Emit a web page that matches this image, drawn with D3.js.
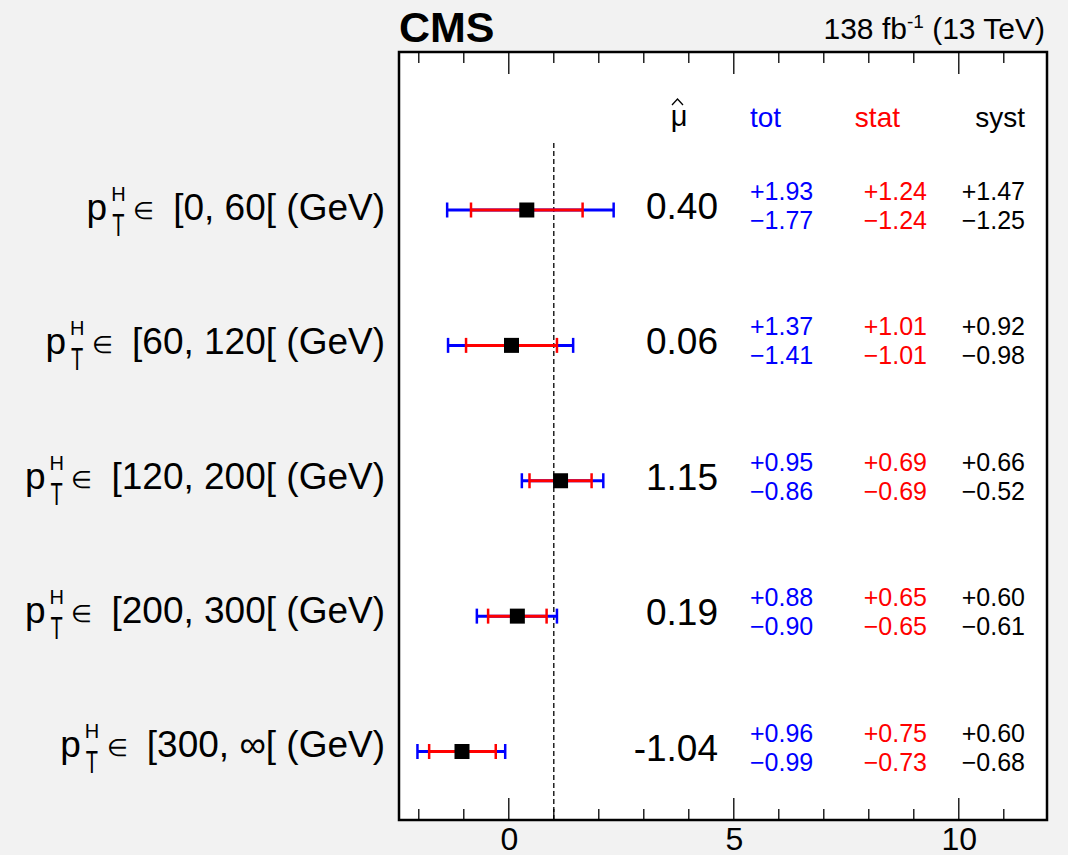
<!DOCTYPE html>
<html><head><meta charset="utf-8">
<script src="https://cdn.jsdelivr.net/npm/d3@7"></script>
<style>
html,body{margin:0;padding:0;background:#f2f2f2;}
text{font-family:"Liberation Sans",Arial,Helvetica,sans-serif;}
</style></head>
<body>
<svg id="c" width="1068" height="855"></svg>
<script>
const binLabels = ["[0, 60[", "[60, 120[", "[120, 200[", "[200, 300[", "[300, \u221e["];
const muValues = [0.40, 0.06, 1.15, 0.19, -1.04];
const muText = ["0.40", "0.06", "1.15", "0.19", "-1.04"];
const totUp = [1.93, 1.37, 0.95, 0.88, 0.96];
const totDown = [1.77, 1.41, 0.86, 0.90, 0.99];
const statUp = [1.24, 1.01, 0.69, 0.65, 0.75];
const statDown = [1.24, 1.01, 0.69, 0.65, 0.73];
const systUp = [1.47, 0.92, 0.66, 0.60, 0.60];
const systDown = [1.25, 0.98, 0.52, 0.61, 0.68];
const xTicksMajor = [0, 5, 10];
const smValue = 1;

const svg = d3.select("#c");
const L = 399, R = 1047, T = 52, B = 820;
const x = d3.scaleLinear().domain([-2.44, 11.96]).range([L, R]);
const n = muValues.length;
const y = d3.scaleLinear().domain([0, n - 1]).range([210, 751.5]);
const yLab = d3.scaleLinear().domain([0, n - 1]).range([220, 757]);

svg.append("rect").attr("x", L).attr("y", T).attr("width", R - L).attr("height", B - T).attr("fill", "#fff");

// ticks
const minor = d3.range(-2, 12, 1);
const tg = svg.append("g").attr("stroke", "#000").attr("stroke-width", 1.3);
minor.forEach(v => {
  const len = xTicksMajor.includes(v) ? 22 : 11;
  tg.append("line").attr("x1", x(v)).attr("x2", x(v)).attr("y1", B).attr("y2", B - len);
  tg.append("line").attr("x1", x(v)).attr("x2", x(v)).attr("y1", T).attr("y2", T + len);
});
const ax = d3.axisBottom(x).tickValues(xTicksMajor).tickSize(0).tickPadding(0).tickFormat(d3.format("d"));
const axG = svg.append("g").attr("transform", `translate(0,${B})`).call(ax);
axG.select(".domain").remove();
axG.selectAll("text").attr("font-size", 32).attr("fill", "#000").attr("dy", null).attr("y", 30)
  .style("font-family", '"Liberation Sans",Arial,sans-serif');

// dashed line at SM
svg.append("line").attr("x1", x(smValue)).attr("x2", x(smValue)).attr("y1", 143).attr("y2", B)
  .attr("stroke", "#000").attr("stroke-width", 1.3).attr("stroke-dasharray", "5,3");

// frame
svg.append("rect").attr("x", L).attr("y", T).attr("width", R - L).attr("height", B - T)
  .attr("fill", "none").attr("stroke", "#000").attr("stroke-width", 2.5);

// error bars
const cap = 7.5;
muValues.forEach((m, i) => {
  const yy = y(i);
  const g = svg.append("g");
  const bar = (lo, hi, col) => {
    g.append("line").attr("x1", x(lo)).attr("x2", x(hi)).attr("y1", yy).attr("y2", yy).attr("stroke", col).attr("stroke-width", 3);
    [lo, hi].forEach(v => g.append("line").attr("x1", x(v)).attr("x2", x(v)).attr("y1", yy - cap).attr("y2", yy + cap).attr("stroke", col).attr("stroke-width", 2.5));
  };
  bar(m - totDown[i], m + totUp[i], "#0000ff");
  bar(m - statDown[i], m + statUp[i], "#ff0000");
  g.append("rect").attr("x", x(m) - 7.5).attr("y", yy - 7.5).attr("width", 15).attr("height", 15).attr("fill", "#000");

  // mu text
  svg.append("text").attr("x", 718).attr("y", yy + 9).attr("text-anchor", "end").attr("font-size", 37).text(muText[i]);
  const f = v => v.toFixed(2);
  const cols = [[totUp, totDown, "#0000ff", 750, "start"], [statUp, statDown, "#ff0000", 927, "end"], [systUp, systDown, "#000", 1025, "end"]];
  cols.forEach(([u, d, c, xx, anc]) => {
    svg.append("text").attr("x", xx).attr("y", yy - 10).attr("text-anchor", anc).attr("font-size", 25).attr("fill", c).text("+" + f(u[i]));
    svg.append("text").attr("x", xx).attr("y", yy + 19).attr("text-anchor", anc).attr("font-size", 25).attr("fill", c).text("\u2212" + f(d[i]));
  });

  // label
  const by = yLab(i);
  const mt = svg.append("text").attr("x", 385).attr("y", by).attr("text-anchor", "end").attr("font-size", 37).text(binLabels[i] + " (GeV)");
  const w = mt.node().getComputedTextLength();
  const s = 385 - w;
  svg.append("text").attr("x", s - 19).attr("y", by - 1).attr("text-anchor", "end").attr("font-size", 24).text("\u2208");
  svg.append("text").attr("x", s - 66).attr("y", by).attr("text-anchor", "end").attr("font-size", 37).text("p");
  svg.append("text").attr("x", s - 62).attr("y", by - 19).attr("font-size", 20).text("H");
  svg.append("text").attr("transform", `translate(${s - 61},${by + 16}) scale(1,1.55)`).attr("font-size", 20).text("T");
});

// headers
svg.append("text").attr("x", 679).attr("y", 126).attr("text-anchor", "middle").attr("font-size", 29).text("\u03bc");
svg.append("path").attr("d", "M672,105 L677.5,99 L683,105").attr("fill", "none").attr("stroke", "#000").attr("stroke-width", 1.3);
svg.append("text").attr("x", 750).attr("y", 127).attr("font-size", 28).attr("fill", "#0000ff").text("tot");
svg.append("text").attr("x", 900).attr("y", 127).attr("text-anchor", "end").attr("font-size", 28).attr("fill", "#ff0000").text("stat");
svg.append("text").attr("x", 1025).attr("y", 127).attr("text-anchor", "end").attr("font-size", 28).text("syst");

// title
svg.append("text").attr("x", 399).attr("y", 42).attr("font-size", 43).attr("font-weight", "bold").text("CMS");
const lum = svg.append("text").attr("x", 1045).attr("y", 39).attr("text-anchor", "end").attr("font-size", 30);
lum.append("tspan").text("138 fb");
lum.append("tspan").attr("dy", -11).attr("font-size", 19).text("-1");
lum.append("tspan").attr("dy", 11).text(" (13 TeV)");
</script>
</body></html>
